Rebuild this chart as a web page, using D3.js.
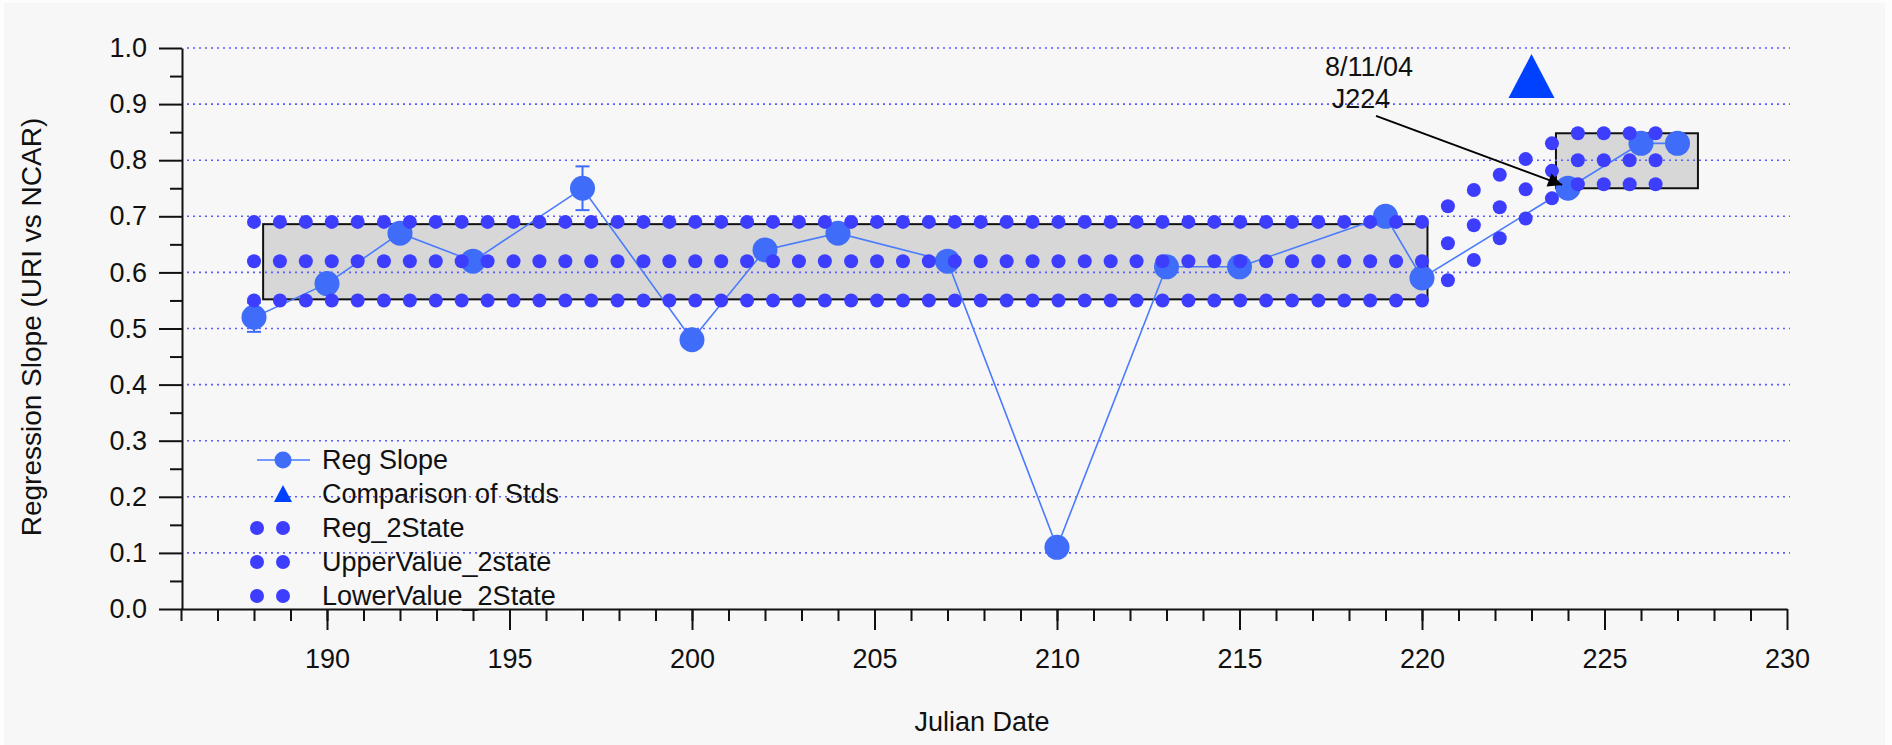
<!DOCTYPE html>
<html>
<head>
<meta charset="utf-8">
<script src="https://cdn.jsdelivr.net/npm/d3@7"></script>
<style>
  body { margin: 0; background: #fdfdfd; }
  svg { display: block; font-family: "Liberation Sans", Arial, sans-serif; }
</style>
</head>
<body>
<div id="chart"></div>
<script>
// Reg Slope (big circles + line)
let regDates = [188, 190, 192, 194, 197, 200, 202, 204, 207, 210, 213, 215, 219, 220, 224, 226, 227]
let regSlope = [0.52, 0.58, 0.67, 0.62, 0.75, 0.48, 0.64, 0.67, 0.62, 0.11, 0.61, 0.61, 0.70, 0.59, 0.75, 0.83, 0.83]
let regErr   = [0.026, 0, 0, 0, 0.039, 0, 0, 0, 0, 0, 0, 0, 0, 0, 0, 0, 0]

// Comparison of Stds
let stdDates = [223]
let stdValues = [0.95]

// 2-state series, sampled dates
let stateDates = [
  188.00, 188.71, 189.42, 190.13, 190.84, 191.56, 192.27, 192.98, 193.69, 194.40,
  195.11, 195.82, 196.53, 197.24, 197.96, 198.67, 199.38, 200.09, 200.80, 201.51,
  202.22, 202.93, 203.64, 204.36, 205.07, 205.78, 206.49, 207.20, 207.91, 208.62,
  209.33, 210.04, 210.76, 211.47, 212.18, 212.89, 213.60, 214.31, 215.02, 215.73,
  216.44, 217.16, 217.87, 218.58, 219.29, 220.00, 220.71, 221.42, 222.13, 222.84,
  223.56, 224.27, 224.98, 225.69, 226.40]
let reg2State = [
  0.62, 0.62, 0.62, 0.62, 0.62, 0.62, 0.62, 0.62, 0.62, 0.62,
  0.62, 0.62, 0.62, 0.62, 0.62, 0.62, 0.62, 0.62, 0.62, 0.62,
  0.62, 0.62, 0.62, 0.62, 0.62, 0.62, 0.62, 0.62, 0.62, 0.62,
  0.62, 0.62, 0.62, 0.62, 0.62, 0.62, 0.62, 0.62, 0.62, 0.62,
  0.62, 0.62, 0.62, 0.62, 0.62, 0.62, 0.652, 0.684, 0.716, 0.748,
  0.781, 0.80, 0.80, 0.80, 0.80]
let upper2State = [
  0.69, 0.69, 0.69, 0.69, 0.69, 0.69, 0.69, 0.69, 0.69, 0.69,
  0.69, 0.69, 0.69, 0.69, 0.69, 0.69, 0.69, 0.69, 0.69, 0.69,
  0.69, 0.69, 0.69, 0.69, 0.69, 0.69, 0.69, 0.69, 0.69, 0.69,
  0.69, 0.69, 0.69, 0.69, 0.69, 0.69, 0.69, 0.69, 0.69, 0.69,
  0.69, 0.69, 0.69, 0.69, 0.69, 0.69, 0.718, 0.747, 0.774, 0.802,
  0.830, 0.848, 0.848, 0.848, 0.848]
let lower2State = [
  0.55, 0.55, 0.55, 0.55, 0.55, 0.55, 0.55, 0.55, 0.55, 0.55,
  0.55, 0.55, 0.55, 0.55, 0.55, 0.55, 0.55, 0.55, 0.55, 0.55,
  0.55, 0.55, 0.55, 0.55, 0.55, 0.55, 0.55, 0.55, 0.55, 0.55,
  0.55, 0.55, 0.55, 0.55, 0.55, 0.55, 0.55, 0.55, 0.55, 0.55,
  0.55, 0.55, 0.55, 0.55, 0.55, 0.55, 0.586, 0.622, 0.661, 0.696,
  0.732, 0.757, 0.757, 0.757, 0.757]

// grey state boxes
let boxStart = [188.25, 223.67]
let boxEnd   = [220.15, 227.56]
let boxLow   = [0.552, 0.750]
let boxHigh  = [0.686, 0.848]

// ticks
let xMajorTicks = [190, 195, 200, 205, 210, 215, 220, 225, 230]
let yTicks = [0.0, 0.1, 0.2, 0.3, 0.4, 0.5, 0.6, 0.7, 0.8, 0.9, 1.0]
let gridValues = [0.1, 0.2, 0.3, 0.4, 0.5, 0.6, 0.7, 0.8, 0.9, 1.0]

let legendNames = ["Reg Slope", "Comparison of Stds", "Reg_2State", "UpperValue_2state", "LowerValue_2State"]

let width = 1892, height = 745

let svg = d3.select('#chart').append('svg')
    .attr('width', width)
    .attr('height', height)

svg.append('rect')
    .attr('x', 4).attr('y', 3)
    .attr('width', 1881).attr('height', 742)
    .attr('fill', '#f7f7f7')

let x = d3.scaleLinear().domain([186, 230]).range([181, 1787])
let y = d3.scaleLinear().domain([0, 1]).range([609, 48])

let dotColor = '#3d3dfd'
let slopeColor = '#3f6cf8'

// boxes
svg.append('g').selectAll('rect')
    .data(boxStart)
  .enter().append('rect')
    .attr('x', (d, i) => x(d))
    .attr('y', (d, i) => y(boxHigh[i]))
    .attr('width', (d, i) => x(boxEnd[i]) - x(d))
    .attr('height', (d, i) => y(boxLow[i]) - y(boxHigh[i]))
    .attr('fill', '#d7d7d7')
    .attr('stroke', '#111')
    .attr('stroke-width', 2)

// grid
svg.append('g').selectAll('line')
    .data(gridValues)
  .enter().append('line')
    .attr('x1', 187).attr('x2', 1790)
    .attr('y1', d => y(d)).attr('y2', d => y(d))
    .attr('stroke', '#5c5cff')
    .attr('stroke-width', 1.6)
    .attr('stroke-dasharray', '2,4')

// axes
let yAxis = d3.axisLeft(y).tickValues(yTicks).tickSize(23).tickPadding(12)
    .tickSizeOuter(0).tickFormat(d3.format('.1f'))
let gy = svg.append('g').attr('transform', 'translate(182,0)').call(yAxis)

let gyMinor = svg.append('g').attr('transform', 'translate(182,0)')
    .call(d3.axisLeft(y).tickValues(d3.range(0.05, 1, 0.1)).tickSize(12).tickFormat(''))
gyMinor.select('.domain').remove()

let xAxis = d3.axisBottom(x).tickValues(xMajorTicks).tickSize(21).tickPadding(19).tickSizeOuter(0)
let gx = svg.append('g').attr('transform', 'translate(0,609)').call(xAxis)

let gxMinor = svg.append('g').attr('transform', 'translate(0,609)')
    .call(d3.axisBottom(x).tickValues(d3.range(186, 230, 1)).tickSize(12).tickFormat(''))
gxMinor.select('.domain').remove()

svg.selectAll('.domain, .tick line')
    .attr('stroke', '#111')
    .attr('stroke-width', 2)
svg.selectAll('.tick text')
    .attr('font-family', '"Liberation Sans", Arial, sans-serif')
    .attr('font-size', 27)
    .attr('fill', '#111')

// axis titles
svg.append('text')
    .attr('x', 982).attr('y', 731)
    .attr('text-anchor', 'middle')
    .attr('font-size', 27).attr('fill', '#111')
    .text('Julian Date')

svg.append('text')
    .attr('transform', 'translate(41,327) rotate(-90)')
    .attr('text-anchor', 'middle')
    .attr('font-size', 28).attr('fill', '#111')
    .text('Regression Slope (URI vs NCAR)')

// Reg Slope line
let regData = regDates.map((d, i) => ({date: d, value: regSlope[i], err: regErr[i]}))

let valueline = d3.line()
    .x(d => x(d.date))
    .y(d => y(d.value))

svg.append('path')
    .datum(regData)
    .attr('d', valueline)
    .attr('fill', 'none')
    .attr('stroke', '#4a7bff')
    .attr('stroke-width', 1.6)

// error bars
let errs = svg.append('g').selectAll('g')
    .data(regData.filter(d => d.err > 0))
  .enter().append('g')
    .attr('stroke', slopeColor)
    .attr('stroke-width', 2)
errs.append('line')
    .attr('x1', d => x(d.date)).attr('x2', d => x(d.date))
    .attr('y1', d => y(d.value + d.err)).attr('y2', d => y(d.value - d.err))
errs.append('line')
    .attr('x1', d => x(d.date) - 7).attr('x2', d => x(d.date) + 7)
    .attr('y1', d => y(d.value + d.err)).attr('y2', d => y(d.value + d.err))
errs.append('line')
    .attr('x1', d => x(d.date) - 7).attr('x2', d => x(d.date) + 7)
    .attr('y1', d => y(d.value - d.err)).attr('y2', d => y(d.value - d.err))

svg.append('g').selectAll('circle')
    .data(regData)
  .enter().append('circle')
    .attr('cx', d => x(d.date))
    .attr('cy', d => y(d.value))
    .attr('r', 12.5)
    .attr('fill', slopeColor)

// 2-state dotted series
;[upper2State, reg2State, lower2State].forEach(series => {
  svg.append('g').selectAll('circle')
      .data(series)
    .enter().append('circle')
      .attr('cx', (d, i) => x(stateDates[i]))
      .attr('cy', d => y(d))
      .attr('r', 7)
      .attr('fill', dotColor)
})

// Comparison of Stds triangle
svg.append('g').selectAll('path')
    .data(stdValues)
  .enter().append('path')
    .attr('d', (d, i) => {
      let cx = x(stdDates[i]), cy = y(d)
      return `M${cx},${cy - 22}L${cx + 23},${cy + 22}L${cx - 23},${cy + 22}Z`
    })
    .attr('fill', '#0040ff')

// annotation
svg.append('defs').append('marker')
    .attr('id', 'arrow')
    .attr('viewBox', '0 0 10 10')
    .attr('refX', 10).attr('refY', 5)
    .attr('markerWidth', 10).attr('markerHeight', 7)
    .attr('markerUnits', 'strokeWidth')
    .attr('orient', 'auto')
  .append('path')
    .attr('d', 'M0,0L10,5L0,10Z')
    .attr('fill', '#000')

svg.append('line')
    .attr('x1', x(218.74)).attr('y1', y(0.879))
    .attr('x2', x(223.84)).attr('y2', y(0.756))
    .attr('stroke', '#000')
    .attr('stroke-width', 2)
    .attr('marker-end', 'url(#arrow)')

svg.append('text')
    .attr('x', x(218.55)).attr('y', 76)
    .attr('text-anchor', 'middle')
    .attr('font-size', 27).attr('fill', '#111')
    .text('8/11/04')
svg.append('text')
    .attr('x', x(218.33)).attr('y', 108)
    .attr('text-anchor', 'middle')
    .attr('font-size', 27).attr('fill', '#111')
    .text('J224')

// legend
let legend = svg.append('g')
let rows = legend.selectAll('g')
    .data(legendNames)
  .enter().append('g')
    .attr('transform', (d, i) => 'translate(0,' + (460 + i * 34) + ')')

rows.append('text')
    .attr('x', 322)
    .attr('dominant-baseline', 'central')
    .attr('font-size', 27).attr('fill', '#111')
    .text(d => d)

let r0 = rows.filter((d, i) => i == 0)
r0.append('line')
    .attr('x1', 257).attr('x2', 310)
    .attr('stroke', '#4a7bff').attr('stroke-width', 1.6)
r0.append('circle').attr('cx', 283).attr('r', 8.5).attr('fill', slopeColor)

rows.filter((d, i) => i == 1).append('path')
    .attr('d', 'M283,-9L292,8L274,8Z')
    .attr('fill', '#0040ff')

let dotRows = rows.filter((d, i) => i >= 2)
dotRows.append('circle').attr('cx', 257).attr('r', 7).attr('fill', dotColor)
dotRows.append('circle').attr('cx', 283).attr('r', 7).attr('fill', dotColor)
</script>
</body>
</html>
